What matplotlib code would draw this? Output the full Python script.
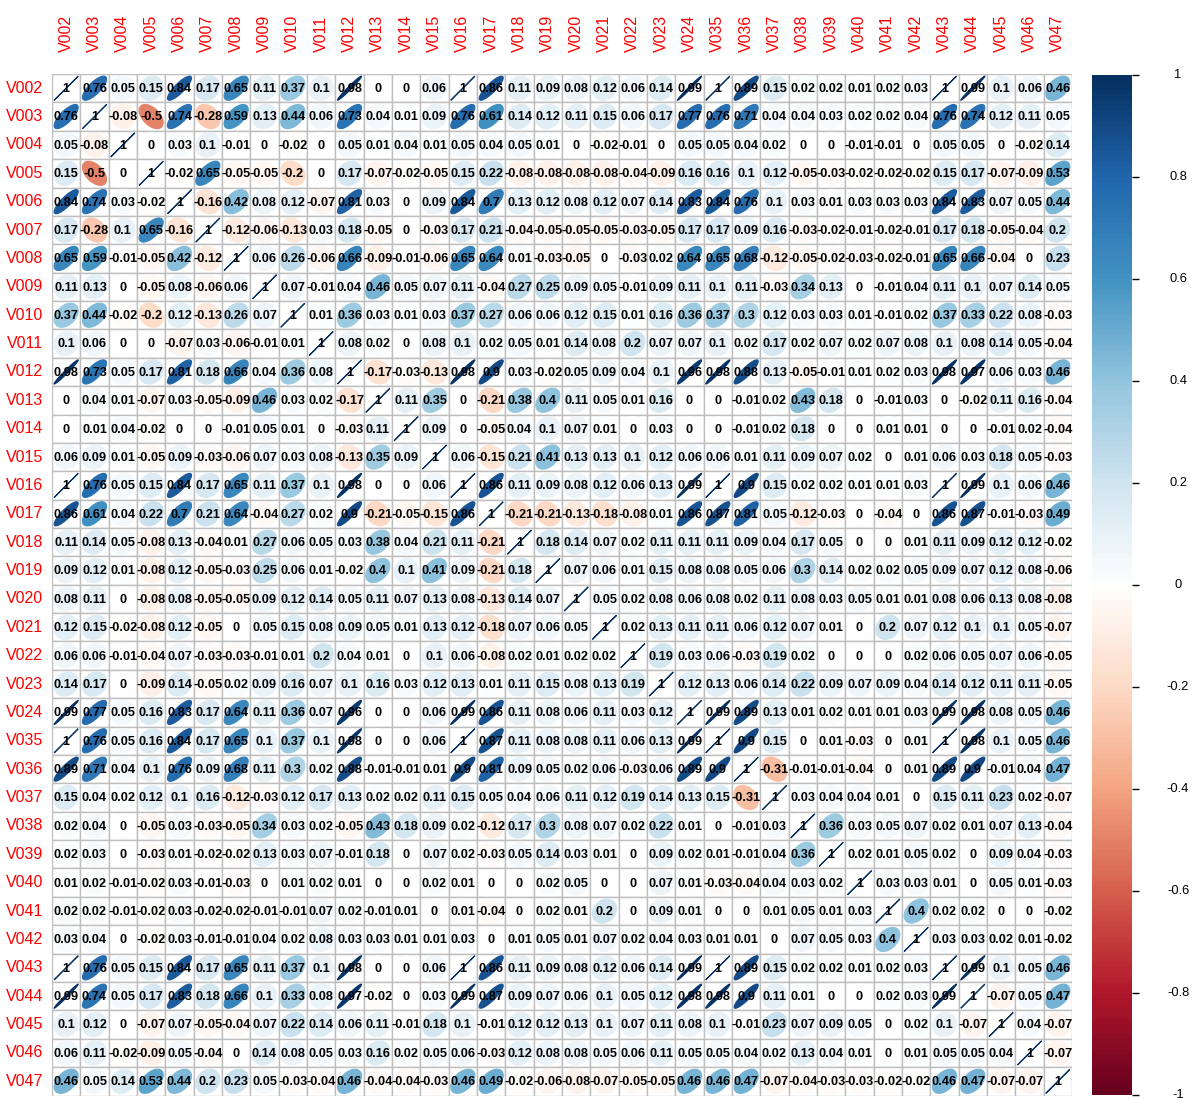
import numpy as np
import matplotlib
matplotlib.use('Agg')
import matplotlib.pyplot as plt
from matplotlib.colors import LinearSegmentedColormap
from matplotlib.patches import Polygon, Rectangle

# variable names (row / column order)
var_names = ['V002', 'V003', 'V004', 'V005', 'V006', 'V007', 'V008', 'V009', 'V010',
             'V011', 'V012', 'V013', 'V014', 'V015', 'V016', 'V017', 'V018', 'V019',
             'V020', 'V021', 'V022', 'V023', 'V024', 'V035', 'V036', 'V037', 'V038',
             'V039', 'V040', 'V041', 'V042', 'V043', 'V044', 'V045', 'V046', 'V047']

# upper triangle of the correlation matrix, row i holds columns i+1 .. end
upper_rows = [
    [0.76, 0.05, 0.15, 0.84, 0.17, 0.65, 0.11, 0.37, 0.1, 0.98, 0, 0, 0.06, 1, 0.86, 0.11, 0.09, 0.08,
     0.12, 0.06, 0.14, 0.99, 1, 0.89, 0.15, 0.02, 0.02, 0.01, 0.02, 0.03, 1, 0.99, 0.1, 0.06, 0.46],
    [-0.08, -0.5, 0.74, -0.28, 0.59, 0.13, 0.44, 0.06, 0.73, 0.04, 0.01, 0.09, 0.76, 0.61, 0.14, 0.12,
     0.11, 0.15, 0.06, 0.17, 0.77, 0.76, 0.71, 0.04, 0.04, 0.03, 0.02, 0.02, 0.04, 0.76, 0.74, 0.12, 0.11, 0.05],
    [0, 0.03, 0.1, -0.01, 0, -0.02, 0, 0.05, 0.01, 0.04, 0.01, 0.05, 0.04, 0.05, 0.01, 0, -0.02, -0.01,
     0, 0.05, 0.05, 0.04, 0.02, 0, 0, -0.01, -0.01, 0, 0.05, 0.05, 0, -0.02, 0.14],
    [-0.02, 0.65, -0.05, -0.05, -0.2, 0, 0.17, -0.07, -0.02, -0.05, 0.15, 0.22, -0.08, -0.08, -0.08,
     -0.08, -0.04, -0.09, 0.16, 0.16, 0.1, 0.12, -0.05, -0.03, -0.02, -0.02, -0.02, 0.15, 0.17, -0.07, -0.09, 0.53],
    [-0.16, 0.42, 0.08, 0.12, -0.07, 0.81, 0.03, 0, 0.09, 0.84, 0.7, 0.13, 0.12, 0.08, 0.12, 0.07, 0.14,
     0.83, 0.84, 0.76, 0.1, 0.03, 0.01, 0.03, 0.03, 0.03, 0.84, 0.83, 0.07, 0.05, 0.44],
    [-0.12, -0.06, -0.13, 0.03, 0.18, -0.05, 0, -0.03, 0.17, 0.21, -0.04, -0.05, -0.05, -0.05, -0.03,
     -0.05, 0.17, 0.17, 0.09, 0.16, -0.03, -0.02, -0.01, -0.02, -0.01, 0.17, 0.18, -0.05, -0.04, 0.2],
    [0.06, 0.26, -0.06, 0.66, -0.09, -0.01, -0.06, 0.65, 0.64, 0.01, -0.03, -0.05, 0, -0.03, 0.02, 0.64,
     0.65, 0.68, -0.12, -0.05, -0.02, -0.03, -0.02, -0.01, 0.65, 0.66, -0.04, 0, 0.23],
    [0.07, -0.01, 0.04, 0.46, 0.05, 0.07, 0.11, -0.04, 0.27, 0.25, 0.09, 0.05, -0.01, 0.09, 0.11, 0.1,
     0.11, -0.03, 0.34, 0.13, 0, -0.01, 0.04, 0.11, 0.1, 0.07, 0.14, 0.05],
    [0.01, 0.36, 0.03, 0.01, 0.03, 0.37, 0.27, 0.06, 0.06, 0.12, 0.15, 0.01, 0.16, 0.36, 0.37, 0.3, 0.12,
     0.03, 0.03, 0.01, -0.01, 0.02, 0.37, 0.33, 0.22, 0.08, -0.03],
    [0.08, 0.02, 0, 0.08, 0.1, 0.02, 0.05, 0.01, 0.14, 0.08, 0.2, 0.07, 0.07, 0.1, 0.02, 0.17, 0.02, 0.07,
     0.02, 0.07, 0.08, 0.1, 0.08, 0.14, 0.05, -0.04],
    [-0.17, -0.03, -0.13, 0.98, 0.9, 0.03, -0.02, 0.05, 0.09, 0.04, 0.1, 0.96, 0.98, 0.88, 0.13, -0.05,
     -0.01, 0.01, 0.02, 0.03, 0.98, 0.97, 0.06, 0.03, 0.46],
    [0.11, 0.35, 0, -0.21, 0.38, 0.4, 0.11, 0.05, 0.01, 0.16, 0, 0, -0.01, 0.02, 0.43, 0.18, 0, -0.01,
     0.03, 0, -0.02, 0.11, 0.16, -0.04],
    [0.09, 0, -0.05, 0.04, 0.1, 0.07, 0.01, 0, 0.03, 0, 0, -0.01, 0.02, 0.18, 0, 0, 0.01, 0.01, 0, 0,
     -0.01, 0.02, -0.04],
    [0.06, -0.15, 0.21, 0.41, 0.13, 0.13, 0.1, 0.12, 0.06, 0.06, 0.01, 0.11, 0.09, 0.07, 0.02, 0, 0.01,
     0.06, 0.03, 0.18, 0.05, -0.03],
    [0.86, 0.11, 0.09, 0.08, 0.12, 0.06, 0.13, 0.99, 1, 0.9, 0.15, 0.02, 0.02, 0.01, 0.01, 0.03, 1, 0.99,
     0.1, 0.06, 0.46],
    [-0.21, -0.21, -0.13, -0.18, -0.08, 0.01, 0.86, 0.87, 0.81, 0.05, -0.12, -0.03, 0, -0.04, 0, 0.86,
     0.87, -0.01, -0.03, 0.49],
    [0.18, 0.14, 0.07, 0.02, 0.11, 0.11, 0.11, 0.09, 0.04, 0.17, 0.05, 0, 0, 0.01, 0.11, 0.09, 0.12, 0.12, -0.02],
    [0.07, 0.06, 0.01, 0.15, 0.08, 0.08, 0.05, 0.06, 0.3, 0.14, 0.02, 0.02, 0.05, 0.09, 0.07, 0.12, 0.08, -0.06],
    [0.05, 0.02, 0.08, 0.06, 0.08, 0.02, 0.11, 0.08, 0.03, 0.05, 0.01, 0.01, 0.08, 0.06, 0.13, 0.08, -0.08],
    [0.02, 0.13, 0.11, 0.11, 0.06, 0.12, 0.07, 0.01, 0, 0.2, 0.07, 0.12, 0.1, 0.1, 0.05, -0.07],
    [0.19, 0.03, 0.06, -0.03, 0.19, 0.02, 0, 0, 0, 0.02, 0.06, 0.05, 0.07, 0.06, -0.05],
    [0.12, 0.13, 0.06, 0.14, 0.22, 0.09, 0.07, 0.09, 0.04, 0.14, 0.12, 0.11, 0.11, -0.05],
    [0.99, 0.89, 0.13, 0.01, 0.02, 0.01, 0.01, 0.03, 0.99, 0.98, 0.08, 0.05, 0.46],
    [0.9, 0.15, 0, 0.01, -0.03, 0, 0.01, 1, 0.98, 0.1, 0.05, 0.46],
    [-0.31, -0.01, -0.01, -0.04, 0, 0.01, 0.89, 0.9, -0.01, 0.04, 0.47],
    [0.03, 0.04, 0.04, 0.01, 0, 0.15, 0.11, 0.23, 0.02, -0.07],
    [0.36, 0.03, 0.05, 0.07, 0.02, 0.01, 0.07, 0.13, -0.04],
    [0.02, 0.01, 0.05, 0.02, 0, 0.09, 0.04, -0.03],
    [0.03, 0.03, 0.01, 0, 0.05, 0.01, -0.03],
    [0.4, 0.02, 0.02, 0, 0, -0.02],
    [0.03, 0.03, 0.02, 0.01, -0.02],
    [0.99, 0.1, 0.05, 0.46],
    [-0.07, 0.05, 0.47],
    [0.04, -0.07],
    [-0.07],
]

legend_ticks = [1, 0.8, 0.6, 0.4, 0.2, 0, -0.2, -0.4, -0.6, -0.8, -1]

# corrplot RdBu palette
rdbu_colors = ['#67001F', '#B2182B', '#D6604D', '#F4A582', '#FDDBC7', '#FFFFFF',
               '#D1E5F0', '#92C5DE', '#4393C3', '#2166AC', '#053061']
cmap = LinearSegmentedColormap.from_list('corr_rdbu', rdbu_colors, N=200)

n = len(var_names)
corr = np.eye(n)
for i, row in enumerate(upper_rows):
    for k, v in enumerate(row):
        j = i + 1 + k
        corr[i, j] = v
        corr[j, i] = v

W, H = 1201, 1100
fig = plt.figure(figsize=(W / 100, H / 100), dpi=100)
fig.patch.set_facecolor('white')

# main grid axes (pixel box 52..1072 x 74..1095)
gx0, gx1, gy0, gy1 = 52, 1072, 74, 1095.5
ax = fig.add_axes([gx0 / W, 1 - gy1 / H, (gx1 - gx0) / W, (gy1 - gy0) / H])
ax.set_xlim(0, n)
ax.set_ylim(n, 0)
ax.axis('off')

t = np.linspace(0, 2 * np.pi, 99)
for i in range(n):
    for j in range(n):
        r = corr[i, j]
        cx, cy = j + 0.5, i + 0.5
        ax.add_patch(Rectangle((j, i), 1, 1, facecolor='white', edgecolor='#BEBEBE',
                               linewidth=1.0, zorder=1))
        a = np.arccos(np.clip(r, -1, 1))
        ex = 0.85 * np.cos(t + a / 2) / 2 + cx
        ey = cy - 0.85 * np.cos(t - a / 2) / 2
        col = cmap((r + 1) / 2)
        ax.add_patch(Polygon(np.column_stack([ex, ey]), closed=True, facecolor=col,
                             edgecolor=col, linewidth=0.8, zorder=2))
        label = f"{r:g}"
        if label == '-0':
            label = '0'
        ax.text(cx, cy + 0.03, label, ha='center', va='center', fontsize=9.2,
                fontweight='bold', family='Liberation Sans', color='black', zorder=3)

# variable labels
for k, name in enumerate(var_names):
    ax.text(-0.32, k + 0.5, name, ha='right', va='center', color='red',
            fontsize=11.5, family='Liberation Sans', clip_on=False)
    ax.text(k + 0.5, -0.78, name, ha='center', va='bottom', color='red', rotation=90,
            fontsize=11.5, family='Liberation Sans', clip_on=False)

# colour legend
cx0, cx1, cy0, cy1 = 1092, 1132, 75, 1095
cax = fig.add_axes([cx0 / W, 1 - cy1 / H, (cx1 - cx0) / W, (cy1 - cy0) / H])
grad = np.linspace(1, -1, 200).reshape(-1, 1)
cax.imshow(grad, cmap=cmap, vmin=-1, vmax=1, aspect='auto', extent=[0, 1, -1, 1])
cax.set_xlim(0, 1)
cax.set_ylim(-1, 1)
cax.set_xticks([])
cax.set_yticks(legend_ticks)
cax.set_yticklabels([])
cax.tick_params(axis='y', left=False, right=True, length=5, width=1, direction='out',
                color='black')
for s in cax.spines.values():
    s.set_visible(False)
for v in legend_ticks:
    py = cy0 + (1 - v) / 2 * (cy1 - cy0)
    fig.text(1178 / W, 1 - py / H, f"{v:g}", ha='center', va='center', fontsize=9.3,
             family='Liberation Sans', color='black')

fig.savefig('out.png', dpi=100, facecolor='white')
